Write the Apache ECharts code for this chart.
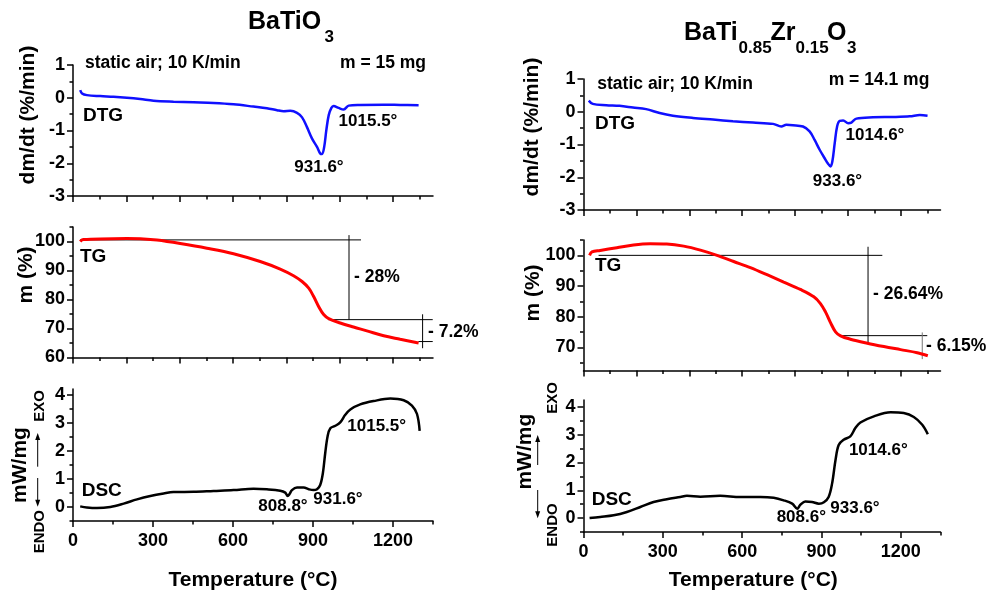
<!DOCTYPE html>
<html><head><meta charset="utf-8">
<script src="https://cdn.jsdelivr.net/npm/echarts@6/dist/echarts.min.js"></script>
<style>html,body{margin:0;padding:0;background:#fff}#c{width:987px;height:595px}</style>
</head><body><div id="c"></div>
<script>
// ---------------- DATA ----------------
// Left: BaTiO3
const leftDtgT = [27,34,52,102,152,202,252,302,377,452,527,602,677,727,765,790,815,840,859,877,896,915,927,934,942,950,959,969,977,996,1015,1034,1077,1165,1227,1296];
const leftDtgV = [0.23,0.13,0.08,0.05,0.03,0.0,-0.04,-0.09,-0.12,-0.14,-0.16,-0.2,-0.27,-0.32,-0.38,-0.41,-0.40,-0.46,-0.6,-0.89,-1.24,-1.5,-1.7,-1.72,-1.5,-0.99,-0.53,-0.31,-0.25,-0.31,-0.36,-0.24,-0.22,-0.21,-0.22,-0.23];
const leftTgT = [27,33,40,102,202,265,315,402,502,602,702,777,827,859,884,902,921,940,959,1002,1052,1102,1165,1227,1296];
const leftTgV = [100.0,100.5,100.7,100.9,101.0,100.9,100.5,99.3,97.7,95.8,93.1,90.5,88.2,86.2,83.9,81.1,77.6,74.8,73.4,71.9,70.5,69.2,67.5,66.3,65.0];
const leftDscT = [27,52,90,140,190,240,290,340,377,452,527,602,677,727,777,796,805,812,821,840,865,884,902,915,927,937,946,955,965,984,1002,1021,1040,1077,1127,1190,1240,1271,1290,1300];
const leftDscV = [0.02,-0.02,-0.04,0.0,0.12,0.27,0.39,0.48,0.53,0.54,0.57,0.6,0.65,0.63,0.58,0.51,0.39,0.46,0.6,0.69,0.69,0.63,0.6,0.63,0.78,1.2,1.93,2.53,2.8,2.89,3.01,3.28,3.47,3.65,3.77,3.86,3.8,3.61,3.31,2.71];
// mass-loss construction lines (temperature, mass %)
const leftTgGuides = [
  [[27,100.55],[1080,100.55]],
  [[1035,102.2],[1035,73.05]],
  [[957,73.05],[1349,73.05]],
  [[1311,74.9],[1311,63.2]],
  [[1295,65.5],[1349,65.5]]
];
// Right: BaTi0.85Zr0.15O3
const rightDtgT = [20,35,86,136,187,237,288,338,414,490,565,641,717,748,767,792,830,855,874,893,912,925,934,941,950,959,969,982,1001,1013,1032,1095,1171,1234,1272,1301];
const rightDtgV = [0.34,0.24,0.2,0.18,0.13,0.08,-0.04,-0.12,-0.19,-0.24,-0.29,-0.33,-0.37,-0.45,-0.4,-0.41,-0.45,-0.6,-0.86,-1.16,-1.42,-1.59,-1.67,-1.52,-0.96,-0.45,-0.28,-0.27,-0.35,-0.33,-0.21,-0.17,-0.16,-0.14,-0.1,-0.12];
const rightTgT = [23,32,63,126,189,252,315,379,442,505,568,631,694,757,820,871,896,915,934,953,972,1009,1073,1136,1199,1262,1302];
const rightTgV = [100,101.1,101.6,102.5,103.4,103.8,103.7,103.0,101.7,100,98.0,96.0,93.7,91.3,88.9,86.5,84.3,81.6,78.1,75.1,73.8,72.7,71.4,70.3,69.3,68.3,67.3];
const rightDscT = [23,63,114,164,215,265,315,366,391,442,517,593,669,719,757,789,808,820,839,864,890,909,927,940,953,965,984,1009,1028,1047,1098,1161,1211,1249,1281,1302];
const rightDscV = [0,0.04,0.1,0.22,0.4,0.58,0.68,0.76,0.8,0.77,0.8,0.76,0.76,0.73,0.64,0.52,0.34,0.48,0.6,0.58,0.52,0.57,0.76,1.24,2.09,2.63,2.82,2.94,3.24,3.44,3.66,3.81,3.78,3.64,3.36,3.02];
const rightTgGuides = [
  [[57,100],[1130,100]],
  [[1076,102.8],[1076,71.3]],
  [[965,73.85],[1300,73.85]]
];
const rightTgGuidesGray = [
  [[1281,74.9],[1281,66.2]]
];
// ticks
const xMajorTop = [0,200,400,600,800,1000,1200];
const xMinorTop = [100,300,500,700,900,1100,1300];
const xMajorBottom = [0,300,600,900,1200];
const xMinorBottom = [150,450,750,1050,1350];
const dtgMajor = [-3,-2,-1,0,1];
const dtgMinor = [-2.5,-1.5,-0.5,0.5];
const tgLeftMajor = [60,70,80,90,100];
const tgRightMajor = [70,80,90,100];
const tgMinor = [65,75,85,95,105];
const dscMajor = [0,1,2,3,4];
const dscMinor = [-0.5,0.5,1.5,2.5,3.5];

// ---------------- CHART ----------------
const FONT = "'Liberation Sans', Arial, Helvetica, sans-serif";
const zip = (a,b)=>a.map((t,i)=>[t,b[i]]);

const grids = [
  {left:73, top:65, width:360, height:131},
  {left:73, top:227, width:360, height:130.5},
  {left:73, top:389, width:360, height:132},
  {left:583.5, top:79, width:357, height:131},
  {left:583.5, top:240, width:357, height:130.5},
  {left:583.5, top:400, width:357, height:132}
];
const panels = [
  {yMin:-3, yMax:1, yMaj:dtgMajor, yMnr:dtgMinor, xMaj:xMajorTop, xMnr:xMinorTop, xLab:false},
  {yMin:60, yMax:105, yMaj:tgLeftMajor, yMnr:tgMinor, xMaj:xMajorTop, xMnr:xMinorTop, xLab:false},
  {yMin:-0.5, yMax:4.2, yMaj:dscMajor, yMnr:dscMinor, xMaj:xMajorBottom, xMnr:xMinorBottom, xLab:true},
  {yMin:-3, yMax:1, yMaj:dtgMajor, yMnr:dtgMinor, xMaj:xMajorTop, xMnr:xMinorTop, xLab:false},
  {yMin:62.5, yMax:105, yMaj:tgRightMajor, yMnr:tgMinor, xMaj:xMajorTop, xMnr:xMinorTop, xLab:false},
  {yMin:-0.5, yMax:4.25, yMaj:dscMajor, yMnr:dscMinor, xMaj:xMajorBottom, xMnr:xMinorBottom, xLab:true}
];
const lab = {color:'#000', fontSize:18, fontWeight:'bold', fontFamily:FONT, formatter:v=>String(v)};
const xAxis = [], yAxis = [];
panels.forEach((p,i)=>{
  xAxis.push({gridIndex:i, type:'value', position:'bottom', min:0, max:1350,
    axisLine:{show:true, onZero:false, lineStyle:{color:'#000', width:1.5}},
    splitLine:{show:false},
    axisTick:{show:true, length:6, lineStyle:{color:'#000', width:1.5}, customValues:p.xMaj},
    axisLabel:Object.assign({show:p.xLab, customValues:p.xMaj, margin:11}, lab)});
  xAxis.push({gridIndex:i, type:'value', position:'bottom', offset:0, min:0, max:1350,
    axisLine:{show:false, onZero:false}, splitLine:{show:false},
    axisTick:{show:true, length:3.5, lineStyle:{color:'#000', width:1.5}, customValues:p.xMnr},
    axisLabel:{show:false}});
  yAxis.push({gridIndex:i, type:'value', position:'left', min:p.yMin, max:p.yMax,
    axisLine:{show:true, onZero:false, lineStyle:{color:'#000', width:1.5}},
    splitLine:{show:false},
    axisTick:{show:true, length:6, lineStyle:{color:'#000', width:1.5}, customValues:p.yMaj},
    axisLabel:Object.assign({customValues:p.yMaj, margin:8}, lab)});
  yAxis.push({gridIndex:i, type:'value', position:'left', offset:0, min:p.yMin, max:p.yMax,
    axisLine:{show:false, onZero:false}, splitLine:{show:false},
    axisTick:{show:true, length:3.5, lineStyle:{color:'#000', width:1.5}, customValues:p.yMnr},
    axisLabel:{show:false}});
});

function curve(i, data, color, w){
  return {type:'line', xAxisIndex:2*i, yAxisIndex:2*i, data:data, showSymbol:false, symbol:'none',
    smooth:0.35, lineStyle:{color:color, width:w}, z:3, silent:true};
}
function guides(i, segs, color){
  return segs.map(s=>({type:'line', xAxisIndex:2*i, yAxisIndex:2*i, data:s, showSymbol:false, symbol:'none',
    lineStyle:{color:color, width:1}, z:2, silent:true}));
}
const series = [
  curve(0, zip(leftDtgT,leftDtgV), '#1010ff', 2.5),
  curve(1, zip(leftTgT,leftTgV), '#ff0000', 3),
  curve(2, zip(leftDscT,leftDscV), '#000000', 2.5),
  curve(3, zip(rightDtgT,rightDtgV), '#1010ff', 2.5),
  curve(4, zip(rightTgT,rightTgV), '#ff0000', 3),
  curve(5, zip(rightDscT,rightDscV), '#000000', 2.5),
  ...guides(1, leftTgGuides, '#000'),
  ...guides(4, rightTgGuides, '#000'),
  ...guides(4, rightTgGuidesGray, '#777')
];

function t(x,y,text,size,align,extra){
  return Object.assign({type:'text', x:x, y:y, silent:true, z:10,
    style:{text:text, fill:'#000', font:'bold '+size+'px '+FONT, textAlign:align||'center', textVerticalAlign:'middle'}}, extra||{});
}
function rt(x,y,text,size){ return t(x,y,text,size,'center',{rotation:Math.PI/2}); }
function arrow(x,y1,y2){ // from y1 (tail) to y2 (tip)
  const d = y2>y1 ? 1 : -1;
  return {type:'group', silent:true, children:[
    {type:'line', shape:{x1:x,y1:y1,x2:x,y2:y2-d*5}, style:{stroke:'#000', lineWidth:1}},
    {type:'polygon', shape:{points:[[x-2.5,y2-d*7],[x+2.5,y2-d*7],[x,y2]]}, style:{fill:'#000'}}
  ]};
}
const graphic = [
  // titles
  t(248,22.5,'BaTiO',25,'left'), t(324.5,37,'3',17,'left'),
  t(684,33.5,'BaTi',25,'left'), t(738.5,48,'0.85',17,'left'),
  t(770.5,33.5,'Zr',25,'left'), t(795.5,48,'0.15',17,'left'),
  t(827,33.5,'O',25,'left'), t(847,48,'3',17,'left'),
  // left annotations
  t(85,62.7,'static air; 10 K/min',17.5,'left'),
  t(383,62.7,'m = 15 mg',17.5,'center'),
  t(83,116,'DTG',19,'left'),
  t(319,167,'931.6°',17,'center'),
  t(368,121.7,'1015.5°',17,'center'),
  t(80,256.7,'TG',19,'left'),
  t(354,276.7,'- 28%',17.5,'left'),
  t(428,332.3,'- 7.2%',17.5,'left'),
  t(81.7,490.7,'DSC',19,'left'),
  t(283,506.7,'808.8°',17,'center'),
  t(338,499.3,'931.6°',17,'center'),
  t(376.7,426.7,'1015.5°',17,'center'),
  // right annotations
  t(597.3,84.3,'static air; 10 K/min',17.5,'left'),
  t(879,80,'m = 14.1 mg',17.5,'center'),
  t(595,123.3,'DTG',19,'left'),
  t(837.5,181.7,'933.6°',17,'center'),
  t(875,135,'1014.6°',17,'center'),
  t(595,265.7,'TG',19,'left'),
  t(873,294.3,'- 26.64%',17.5,'left'),
  t(926,346,'- 6.15%',17.5,'left'),
  t(591.7,500,'DSC',19,'left'),
  t(801.3,517.7,'808.6°',17,'center'),
  t(855,508.3,'933.6°',17,'center'),
  t(878.3,450,'1014.6°',17,'center'),
  // axis names
  rt(28,115,'dm/dt (%/min)',21), rt(26.5,275,'m (%)',21), rt(20,465,'mW/mg',21),
  t(253,580,'Temperature (°C)',21,'center'),
  rt(532.5,127,'dm/dt (%/min)',21), rt(533,293,'m (%)',21), rt(525,451.7,'mW/mg',21),
  t(753.3,580,'Temperature (°C)',21,'center'),
  rt(40,406,'EXO',15), rt(40,531.7,'ENDO',15),
  rt(552.5,398,'EXO',15), rt(552.5,525,'ENDO',15),
  arrow(37.7,466.7,433), arrow(37.7,478,506.7),
  arrow(537.7,465,435), arrow(537.7,490,518.3)
];

const chart = echarts.init(document.getElementById('c'), null, {renderer:'canvas'});
chart.setOption({animation:false, backgroundColor:'#fff', grid:grids, xAxis:xAxis, yAxis:yAxis, series:series, graphic:graphic});
</script>
</body></html>
